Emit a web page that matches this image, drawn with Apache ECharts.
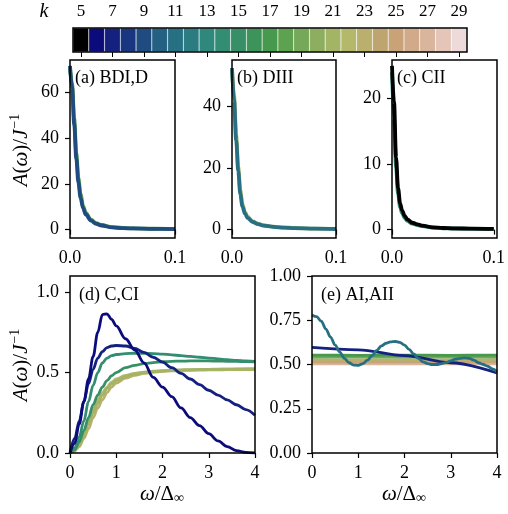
<!DOCTYPE html>
<html>
<head>
<meta charset="UTF-8">
<title>A(omega) panels</title>
<script src="https://cdn.jsdelivr.net/npm/echarts@6/dist/echarts.min.js"></script>
<style>
html, body { margin: 0; padding: 0; background: #fff; }
#main { width: 508px; height: 514px; }
</style>
</head>
<body>
<div id="main"></div>
<script>
// colorbar: k values and their colours
var kValues = [5, 6, 7, 8, 9, 10, 11, 12, 13, 14, 15, 16, 17, 18, 19, 20, 21, 22, 23, 24, 25, 26, 27, 28, 29];
var kColors = ['#000000', '#0b0b7b', '#14217f', '#1a3680', '#1f4b80', '#236082', '#276f83', '#2a7c81', '#2e887c',
  '#338d72', '#378f67', '#3d945b', '#47994d', '#5da24f', '#75a858', '#8dae5f', '#a3b465', '#b3b86b', '#baaf6d',
  '#bea56f', '#c7a377', '#d1ab89', '#dab59d', '#e4c5b7', '#efdada'];

// top row, x = omega
var omegaTop = [0, 0.002, 0.004, 0.006, 0.008, 0.01, 0.0125, 0.015, 0.02, 0.025, 0.03, 0.04, 0.05, 0.06, 0.08, 0.1];
// (a) BDI,D
var aK17 = [70.5, 63.5, 48.5, 33.5, 22.5, 15.5, 10.3, 7.3, 4.3, 2.8, 2.0, 1.1, 0.75, 0.55, 0.38, 0.28];
var aK9 = [71.5, 62, 46, 31, 20.5, 14, 9.3, 6.6, 3.9, 2.5, 1.8, 0.95, 0.65, 0.5, 0.33, 0.25];
// (b) DIII
var bK21 = [52, 43.5, 31, 20.5, 12.8, 8.4, 5.7, 4.2, 2.7, 1.95, 1.45, 0.95, 0.7, 0.55, 0.35, 0.25];
var bK11 = [52.5, 42, 29, 19, 11.5, 7.6, 5.2, 3.8, 2.5, 1.8, 1.35, 0.9, 0.65, 0.5, 0.32, 0.22];
// (c) CII
var cK13 = [24, 17, 9.5, 5.4, 3.4, 2.5, 1.8, 1.35, 0.92, 0.7, 0.52, 0.3, 0.21, 0.17, 0.12, 0.09];
var cK5 = [25, 19.5, 11, 6.3, 4.0, 2.9, 2.1, 1.55, 1.05, 0.8, 0.6, 0.35, 0.25, 0.2, 0.14, 0.1];

// (d) C,CI
var omegaD = [0, 0.1, 0.2, 0.3, 0.4, 0.5, 0.6, 0.7, 0.8, 0.9, 1.0, 1.2, 1.4, 1.6, 1.8, 2.0, 2.2, 2.4, 2.6, 2.8, 3.0, 3.2, 3.4, 3.6, 3.8, 4.0];
var dK23 = [0, 0.012, 0.04, 0.09, 0.15, 0.22, 0.28, 0.33, 0.375, 0.41, 0.435, 0.465, 0.483, 0.495, 0.502, 0.507, 0.51, 0.512, 0.514, 0.515, 0.516, 0.517, 0.518, 0.518, 0.519, 0.52];
var dK22 = [0, 0.02, 0.06, 0.13, 0.2, 0.27, 0.33, 0.375, 0.41, 0.44, 0.46, 0.482, 0.495, 0.503, 0.508, 0.512, 0.515, 0.517, 0.518, 0.519, 0.52, 0.521, 0.521, 0.522, 0.522, 0.523];
var dK21 = [0, 0.015, 0.05, 0.11, 0.18, 0.25, 0.31, 0.36, 0.4, 0.43, 0.45, 0.475, 0.49, 0.5, 0.505, 0.51, 0.513, 0.515, 0.517, 0.518, 0.52, 0.52, 0.521, 0.521, 0.522, 0.522];
var dK15 = [0, 0.02, 0.07, 0.14, 0.22, 0.3, 0.36, 0.41, 0.45, 0.48, 0.5, 0.53, 0.545, 0.555, 0.562, 0.567, 0.57, 0.571, 0.572, 0.572, 0.572, 0.571, 0.57, 0.569, 0.568, 0.567];
var dK14 = [0, 0.03, 0.1, 0.2, 0.32, 0.42, 0.5, 0.56, 0.59, 0.605, 0.612, 0.618, 0.62, 0.62, 0.618, 0.615, 0.61, 0.605, 0.6, 0.595, 0.59, 0.585, 0.58, 0.575, 0.572, 0.57];
var dK7 = [0, 0.09, 0.2, 0.32, 0.43, 0.52, 0.59, 0.63, 0.655, 0.665, 0.668, 0.665, 0.65, 0.625, 0.595, 0.565, 0.53, 0.495, 0.46, 0.425, 0.39, 0.36, 0.33, 0.3, 0.27, 0.235];
var dK6 = [0, 0.06, 0.18, 0.32, 0.46, 0.6, 0.75, 0.86, 0.865, 0.83, 0.79, 0.71, 0.64, 0.56, 0.47, 0.41, 0.35, 0.28, 0.22, 0.17, 0.12, 0.075, 0.04, 0.015, 0.004, 0];

// (e) AI,AII
var omegaFlat = [0, 1, 2, 3, 4];
var eK27 = [0.503, 0.504, 0.503, 0.504, 0.503];
var eK25 = [0.515, 0.514, 0.515, 0.514, 0.515];
var eK23 = [0.525, 0.526, 0.525, 0.526, 0.525];
var eK19 = [0.541, 0.542, 0.541, 0.542, 0.541];
var eK17 = [0.553, 0.552, 0.553, 0.552, 0.553];
var eK7 = [0.597, 0.583, 0.55, 0.51, 0.452];
var omegaE = [0, 0.1, 0.2, 0.3, 0.4, 0.5, 0.6, 0.7, 0.8, 0.9, 1.0, 1.1, 1.2, 1.3, 1.4, 1.5, 1.6, 1.7, 1.8, 1.9, 2.0,
  2.1, 2.2, 2.3, 2.4, 2.5, 2.6, 2.7, 2.8, 2.9, 3.0, 3.1, 3.2, 3.3, 3.4, 3.5, 3.6, 3.7, 3.8, 3.9, 4.0];
var eK11 = [0.78, 0.77, 0.745, 0.7, 0.655, 0.61, 0.57, 0.535, 0.51, 0.497, 0.495, 0.505, 0.525, 0.55, 0.58, 0.605, 0.62,
  0.628, 0.63, 0.625, 0.61, 0.585, 0.56, 0.535, 0.515, 0.505, 0.5, 0.5, 0.505, 0.512, 0.52, 0.53, 0.535, 0.537, 0.535,
  0.525, 0.51, 0.5, 0.49, 0.475, 0.46];

var FONT = 'Liberation Serif';
var TICK_FS = 18;

function kColor(k) {
  return kColors[kValues.indexOf(k)];
}

// matplotlib-like axis with fixed tick positions
function valAxis(idx, min, max, ticks, digits) {
  return {
    type: 'value', gridIndex: idx, min: min, max: max,
    axisLine: { show: false },
    splitLine: { show: false },
    axisTick: { show: true, customValues: ticks, length: 5, lineStyle: { color: '#000', width: 1.2 } },
    axisLabel: {
      customValues: ticks, color: '#000', fontFamily: FONT, fontSize: TICK_FS, margin: 11,
      formatter: function (v) { return v.toFixed(digits); }
    }
  };
}

function curve(idx, xs, ys, k, width) {
  return {
    type: 'line', xAxisIndex: idx, yAxisIndex: idx,
    data: xs.map(function (x, i) { return [x, ys[i]]; }),
    showSymbol: false, symbol: 'none', smooth: 0.35, smoothMonotone: 'x',
    silent: true, clip: true,
    lineStyle: { color: kColor(k), width: width }
  };
}

var boxes = [
  { left: 73, top: 28, width: 394, height: 24 },
  { left: 70, top: 60, width: 105, height: 178 },
  { left: 232, top: 60, width: 104, height: 178 },
  { left: 392, top: 60, width: 105, height: 178 },
  { left: 70, top: 276, width: 185, height: 177 },
  { left: 312, top: 276, width: 185, height: 177 }
];

var oddOnly = function (index) { return index % 2 === 0; };

var xAxes = [
  {
    type: 'category', gridIndex: 0, position: 'top', data: kValues.map(String),
    axisLine: { show: false },
    axisTick: { show: true, inside: true, alignWithLabel: true, interval: oddOnly, length: 5, lineStyle: { color: '#000', width: 1 } },
    axisLabel: { interval: oddOnly, color: '#000', fontFamily: FONT, fontSize: 17, margin: 8 }
  },
  valAxis(1, 0, 0.1, [0, 0.1], 1),
  valAxis(2, 0, 0.1, [0, 0.1], 1),
  valAxis(3, 0, 0.1, [0, 0.1], 1),
  valAxis(4, 0, 4, [0, 1, 2, 3, 4], 0),
  valAxis(5, 0, 4, [0, 1, 2, 3, 4], 0)
];
var yAxes = [
  { type: 'value', gridIndex: 0, min: 0, max: 1, show: false },
  valAxis(1, -3.67, 74.1, [0, 20, 40, 60], 0),
  valAxis(2, -2.7, 55.1, [0, 20, 40], 0),
  valAxis(3, -1.28, 25.9, [0, 10, 20], 0),
  valAxis(4, 0, 1.1, [0, 0.5, 1.0], 1),
  valAxis(5, 0, 1, [0, 0.25, 0.5, 0.75, 1.0], 2)
];

var series = [
  {
    type: 'bar', xAxisIndex: 0, yAxisIndex: 0, barWidth: '100%', silent: true,
    data: kColors.map(function (c) {
      return { value: 1, itemStyle: { color: c, borderColor: 'rgba(255,255,255,0.25)', borderWidth: 0.6 } };
    })
  },
  curve(1, omegaTop, aK17, 17, 3.8),
  curve(1, omegaTop, aK9, 9, 3.8),
  curve(2, omegaTop, bK21, 21, 3.8),
  curve(2, omegaTop, bK11, 11, 3.8),
  curve(3, omegaTop, cK13, 13, 3.8),
  curve(3, omegaTop, cK5, 5, 3.8),
  curve(4, omegaD, dK23, 23, 2.8),
  curve(4, omegaD, dK22, 22, 2.8),
  curve(4, omegaD, dK21, 21, 2.8),
  curve(4, omegaD, dK15, 15, 2.8),
  curve(4, omegaD, dK14, 14, 2.8),
  curve(4, omegaD, dK7, 7, 2.8),
  curve(4, omegaD, dK6, 6, 2.8),
  curve(5, omegaFlat, eK27, 27, 2.8),
  curve(5, omegaFlat, eK25, 25, 2.8),
  curve(5, omegaFlat, eK23, 23, 2.8),
  curve(5, omegaFlat, eK19, 19, 2.8),
  curve(5, omegaFlat, eK17, 17, 2.8),
  curve(5, omegaFlat, eK7, 7, 2.8),
  curve(5, omegaE, eK11, 11, 2.8)
];

var richMath = {
  i: { fontFamily: FONT, fontSize: 21, fontStyle: 'italic', color: '#000' },
  n: { fontFamily: FONT, fontSize: 21, color: '#000' },
  sup: { fontFamily: FONT, fontSize: 14, color: '#000', padding: [0, 0, 11, 1] },
  sub: { fontFamily: FONT, fontSize: 14, color: '#000', padding: [9, 0, 0, 0] }
};

function label(x, y, text) {
  return {
    type: 'text', x: x, y: y, z: 110, silent: true,
    style: { text: text, fontFamily: FONT, fontSize: 18, fill: '#000', align: 'left', verticalAlign: 'middle' }
  };
}

var graphics = boxes.map(function (b) {
  return {
    type: 'rect', z: 100, silent: true,
    shape: { x: b.left, y: b.top, width: b.width, height: b.height },
    style: { fill: null, stroke: '#000', lineWidth: 1.5 }
  };
});
graphics = graphics.concat([
  {
    type: 'text', x: 44, y: 12, silent: true,
    style: { text: 'k', fontFamily: FONT, fontSize: 20, fontStyle: 'italic', fill: '#000', align: 'center', verticalAlign: 'middle' }
  },
  label(75, 78, '(a) BDI,D'),
  label(237, 78, '(b) DIII'),
  label(397, 78, '(c) CII'),
  label(79, 295, '(d) C,CI'),
  label(321, 295, '(e) AI,AII'),
  {
    type: 'text', x: 21, y: 150, rotation: Math.PI / 2, silent: true,
    style: { text: '{i|A}{n|(}{i|ω}{n|)/}{i|J}{sup|−1}', rich: richMath, align: 'center', verticalAlign: 'middle' }
  },
  {
    type: 'text', x: 21, y: 365, rotation: Math.PI / 2, silent: true,
    style: { text: '{i|A}{n|(}{i|ω}{n|)/}{i|J}{sup|−1}', rich: richMath, align: 'center', verticalAlign: 'middle' }
  },
  {
    type: 'text', x: 162, y: 494, silent: true,
    style: { text: '{i|ω}{n|/Δ}{sub|∞}', rich: richMath, align: 'center', verticalAlign: 'middle' }
  },
  {
    type: 'text', x: 404, y: 494, silent: true,
    style: { text: '{i|ω}{n|/Δ}{sub|∞}', rich: richMath, align: 'center', verticalAlign: 'middle' }
  }
]);

var chart = echarts.init(document.getElementById('main'));
chart.setOption({
  animation: false,
  backgroundColor: '#fff',
  grid: boxes.map(function (b) {
    return { left: b.left, top: b.top, width: b.width, height: b.height, containLabel: false, show: false };
  }),
  xAxis: xAxes,
  yAxis: yAxes,
  series: series,
  graphic: { elements: graphics }
});
</script>
</body>
</html>
